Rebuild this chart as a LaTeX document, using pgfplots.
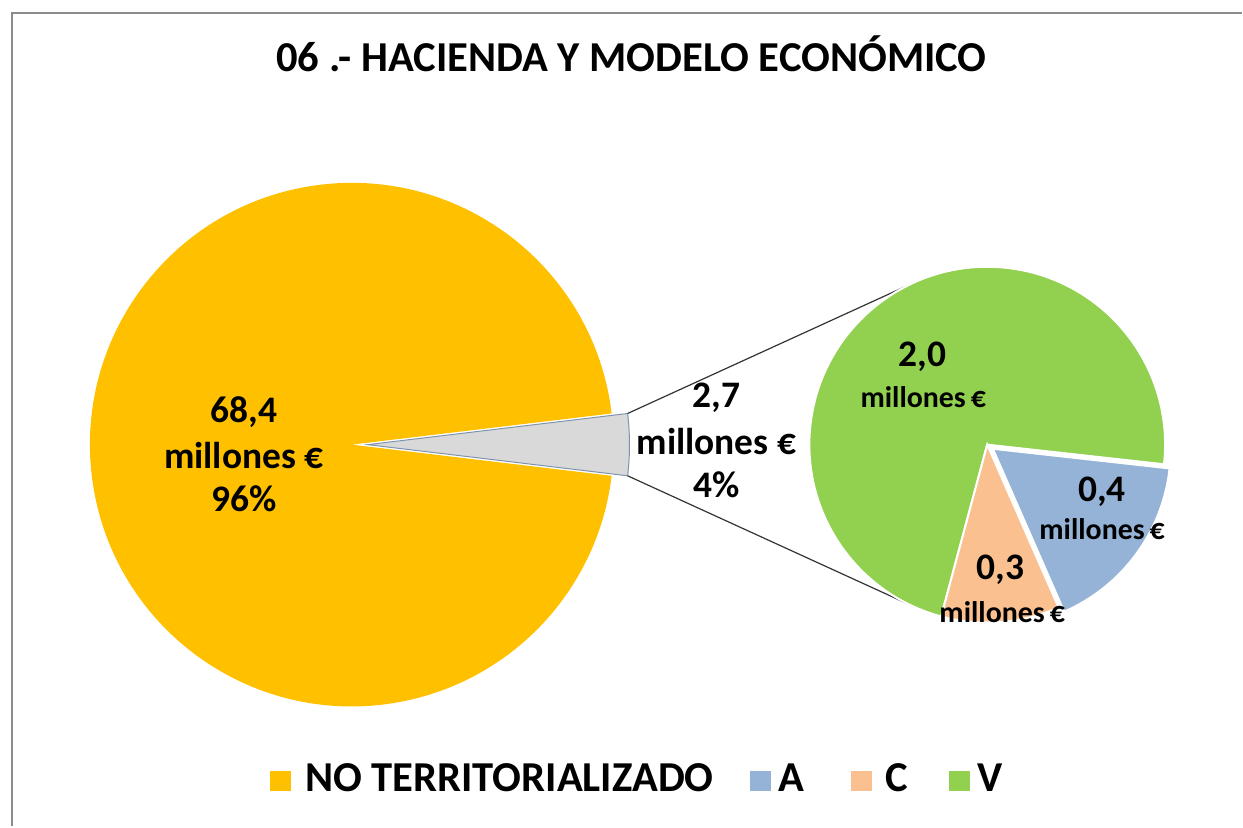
\documentclass[border=0pt]{standalone}
\usepackage{fontspec}
\setmainfont{Carlito}
\usepackage{pgfplots}
\usepackage{pgfplotstable}
\pgfplotsset{compat=1.18}
\usetikzlibrary{calc}

\definecolor{cNT}{HTML}{FFC000}
\definecolor{cA}{HTML}{95B3D7}
\definecolor{cC}{HTML}{FAC090}
\definecolor{cV}{HTML}{92D050}
\definecolor{cRest}{HTML}{D9D9D9}
\definecolor{cRestBd}{HTML}{7F93AD}
\definecolor{frame}{HTML}{8C8C8C}

% millones de euros
\pgfplotstableread{
serie valor
NT 68.4
A  0.45
C  0.29
V  1.96
}\datos

\begin{document}
\begin{tikzpicture}
\pgfplotstablegetelem{0}{valor}\of\datos \let\vNT\pgfplotsretval
\pgfplotstablegetelem{1}{valor}\of\datos \let\vA\pgfplotsretval
\pgfplotstablegetelem{2}{valor}\of\datos \let\vC\pgfplotsretval
\pgfplotstablegetelem{3}{valor}\of\datos \let\vV\pgfplotsretval
\pgfmathsetmacro\vR{\vA+\vC+\vV}
\pgfmathsetmacro\hR{180*\vR/(\vNT+\vR)}% half angle of the grey slice
\pgfmathsetmacro\eC{-105+360*\vC/\vR}
\pgfmathsetmacro\eA{\eC+360*\vA/\vR}
\pgfmathsetmacro\mA{(\eC+\eA)/2}
\pgfmathsetmacro\hRn{-\hR}
\pgfmathsetmacro\hRe{360-\hR}

\begin{axis}[width=621.5bp, height=413.5bp, scale only axis,
  xmin=0, xmax=1243, ymin=0, ymax=827, hide axis, clip=false]
\path (axis cs:0,0) rectangle (axis cs:1243,827);

% frame
\draw[frame, line width=1bp] (axis cs:12,0) -- (axis cs:12,814) -- (axis cs:1243,814);

% main pie
\fill[cNT] (axis cs:352,382) -- ++(\hR:131bp)
  arc[start angle=\hR, end angle=\hRe, radius=131bp] -- cycle;
\filldraw[fill=cRest, draw=cRestBd, line width=0.5bp] (axis cs:368,382) -- ++(\hRn:131bp)
  arc[start angle=\hRn, end angle=\hR, radius=131bp] -- cycle;

% connectors
\draw[black!80, line width=0.6bp] ($(axis cs:368,382)+(\hR:131bp)$) -- ($(axis cs:988,382)+(116:89bp)$);
\draw[black!80, line width=0.6bp] ($(axis cs:368,382)+(\hRn:131bp)$) -- ($(axis cs:988,382)+(-114:89bp)$);

% secondary pie
\filldraw[fill=cV, draw=white, line width=1bp] (axis cs:988,382) -- ++(\eA:89bp)
  arc[start angle=\eA, end angle=255, radius=89bp] -- cycle;
\filldraw[fill=cC, draw=white, line width=1bp] (axis cs:988,382) -- ++(-105:89bp)
  arc[start angle=-105, end angle=\eC, radius=89bp] -- cycle;
\filldraw[fill=cA, draw=white, line width=1bp] (axis cs:988,382) ++(\mA:3.5bp) -- ++(\eC:89bp)
  arc[start angle=\eC, end angle=\eA, radius=89bp] -- cycle;

% labels
\begin{scope}[every node/.style={anchor=base, inner sep=0pt, font=\bfseries\fontsize{18.8}{22}\selectfont}]
\node at (axis cs:244,404) {68,4};
\node at (axis cs:244,358) {millones €};
\node at (axis cs:244,315) {96\%};
\node at (axis cs:717,419) {2,7};
\node at (axis cs:717,372) {millones €};
\node at (axis cs:717,329) {4\%};
\node at (axis cs:923,460) {2,0};
\node at (axis cs:1103,325) {0,4};
\node at (axis cs:1001,247) {0,3};
\end{scope}
\begin{scope}[every node/.style={anchor=base, inner sep=0pt, font=\bfseries\fontsize{15}{18}\selectfont}]
\node at (axis cs:924,419) {millones\,€};
\node at (axis cs:1103,287) {millones\,€};
\node at (axis cs:1003,204) {millones\,€};
\end{scope}

% title
\node[anchor=base, inner sep=0pt, font=\bfseries\fontsize{21.4}{25}\selectfont] at (axis cs:632,755)
  {06 .- HACIENDA Y MODELO ECONÓMICO};

% legend
\fill[cNT] (axis cs:270,35) rectangle (axis cs:291,55);
\fill[cA]  (axis cs:751,35) rectangle (axis cs:772,55);
\fill[cC]  (axis cs:852,35) rectangle (axis cs:873,55);
\fill[cV]  (axis cs:950,35) rectangle (axis cs:971,55);
\begin{scope}[every node/.style={anchor=base west, inner sep=0pt, font=\bfseries\fontsize{21.4}{25}\selectfont}]
\node at (axis cs:305,35) {NO TERRITORIALIZADO};
\node at (axis cs:779,35) {A};
\node at (axis cs:886,35) {C};
\node at (axis cs:978,35) {V};
\end{scope}
\end{axis}
\end{tikzpicture}
\end{document}
